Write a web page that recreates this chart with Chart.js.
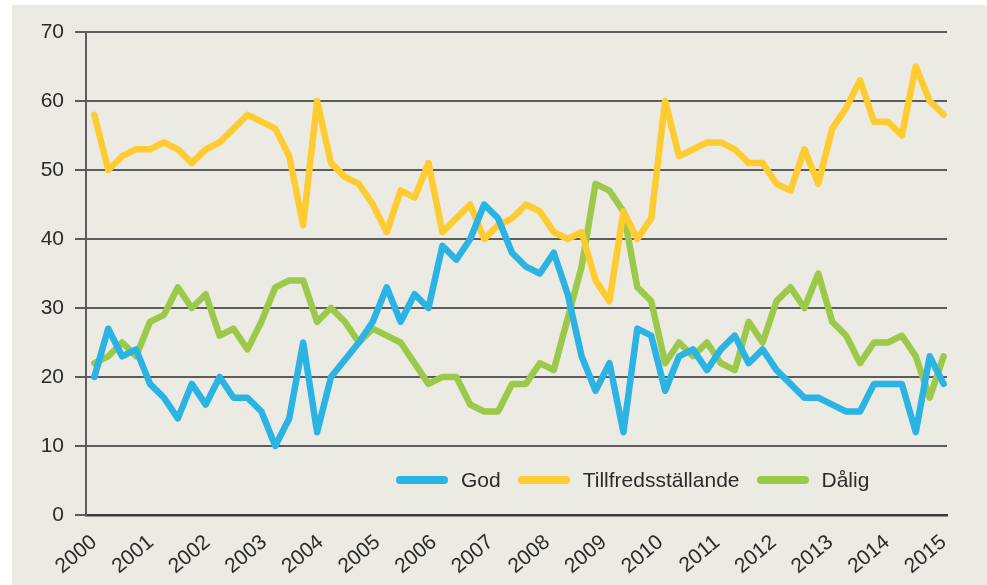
<!DOCTYPE html>
<html>
<head>
<meta charset="utf-8">
<script src="https://cdn.jsdelivr.net/npm/chart.js@4.4.1/dist/chart.umd.min.js"></script>
<style>
  html, body { margin: 0; padding: 0; background: #ffffff; }
  #wrap { position: relative; width: 987px; height: 585px; }
  #legend {
    position: absolute; left: 396px; top: 468px; height: 24px;
    display: flex; align-items: center;
    font-family: "Liberation Sans", Arial, sans-serif; font-size: 21px; color: #2b2b2b;
  }
  #legend .item { display: flex; align-items: center; margin-right: 17px; }
  #legend .swatch { width: 52px; height: 8px; border-radius: 4px; margin-right: 13px; }
</style>
</head>
<body>
<div id="wrap">
  <canvas id="chart" width="987" height="585"></canvas>
  <div id="legend"></div>
</div>
<script>
// year tick labels on the x axis
const years = [2000, 2001, 2002, 2003, 2004, 2005, 2006, 2007, 2008, 2009, 2010, 2011, 2012, 2013, 2014, 2015];

// quarterly shares (%)
const god = [20, 27, 23, 24, 19, 17, 14, 19, 16, 20,
  17, 17, 15, 10, 14, 25, 12, 20, 22.5, 25,
  28, 33, 28, 32, 30, 39, 37, 40, 45, 43,
  38, 36, 35, 38, 32, 23, 18, 22, 12, 27,
  26, 18, 23, 24, 21, 24, 26, 22, 24, 21,
  19, 17, 17, 16, 15, 15, 19, 19, 19, 12,
  23, 19];

const tillfreds = [58, 50, 52, 53, 53, 54, 53, 51, 53, 54,
  56, 58, 57, 56, 52, 42, 60, 51, 49, 48,
  45, 41, 47, 46, 51, 41, 43, 45, 40, 42,
  43, 45, 44, 41, 40, 41, 34, 31, 44, 40,
  43, 60, 52, 53, 54, 54, 53, 51, 51, 48,
  47, 53, 48, 56, 59, 63, 57, 57, 55, 65,
  60, 58];

const dalig = [22, 23, 25, 23, 28, 29, 33, 30, 32, 26,
  27, 24, 28, 33, 34, 34, 28, 30, 28, 25,
  27, 26, 25, 22, 19, 20, 20, 16, 15, 15,
  19, 19, 22, 21, 28.5, 36, 48, 47, 44, 33,
  31, 22, 25, 23, 25, 22, 21, 28, 25, 31,
  33, 30, 35, 28, 26, 22, 25, 25, 26, 23,
  17, 23];

const seriesNames = ["God", "Tillfredsställande", "Dålig"];
const seriesColors = ["#2bb3e4", "#fecb30", "#9cc94a"];

const yTicks = [0, 10, 20, 30, 40, 50, 60, 70];

// points spread evenly from the first to the last year label
function toPoints(arr){
  const first = years[0], span = years[years.length-1] - years[0];
  return arr.map((v,i)=>({ x: first + i*span/(arr.length-1), y: v }));
}

const bgPlugin = {
  id: "bg",
  beforeDraw(chart){
    const c = chart.ctx;
    c.save();
    c.fillStyle = "#ebebe3";
    c.fillRect(12, 5, chart.width-12, chart.height-5);
    c.restore();
  }
};

const FONT = "'Liberation Sans', Arial, sans-serif";

const chart = new Chart(document.getElementById("chart"), {
  type: "line",
  data: {
    datasets: [god, tillfreds, dalig].map((arr,k)=>({
      label: seriesNames[k],
      data: toPoints(arr),
      borderColor: seriesColors[k],
      backgroundColor: seriesColors[k],
      borderWidth: 6.5,
      pointRadius: 0,
      tension: 0,
      borderJoinStyle: "round",
      borderCapStyle: "round"
    }))
  },
  options: {
    responsive: false,
    animation: false,
    layout: { padding: { top: 32, right: 40, left: 0, bottom: 0 } },
    plugins: {
      legend: { display: false },
      tooltip: { enabled: false }
    },
    scales: {
      x: {
        type: "linear",
        min: 1999.853,
        max: 2015.06,
        afterBuildTicks(scale){ scale.ticks = years.map(v=>({ value: v })); },
        afterFit(scale){ scale.height = 70; },
        grid: { display: false, drawTicks: false },
        border: { display: true, color: "#3a3a3a", width: 2.5 },
        ticks: {
          autoSkip: false,
          minRotation: 40,
          maxRotation: 40,
          padding: 15,
          color: "#2b2b2b",
          font: { family: FONT, size: 21 },
          callback: v => String(v)
        }
      },
      y: {
        min: 0,
        max: 70,
        afterBuildTicks(scale){ scale.ticks = yTicks.map(v=>({ value: v })); },
        afterFit(scale){ scale.width = 86; },
        grid: { color: "#5c5c5c", lineWidth: 2, tickLength: 11, drawTicks: true },
        border: { display: true, color: "#5c5c5c", width: 2 },
        ticks: {
          padding: 11,
          color: "#2b2b2b",
          font: { family: FONT, size: 21 }
        }
      }
    }
  },
  plugins: [bgPlugin]
});

// legend inside the plot, bottom right
const legend = document.getElementById("legend");
chart.data.datasets.forEach(ds=>{
  const item = document.createElement("div");
  item.className = "item";
  item.innerHTML = `<span class="swatch" style="background:${ds.borderColor}"></span><span>${ds.label}</span>`;
  legend.appendChild(item);
});
</script>
</body>
</html>
